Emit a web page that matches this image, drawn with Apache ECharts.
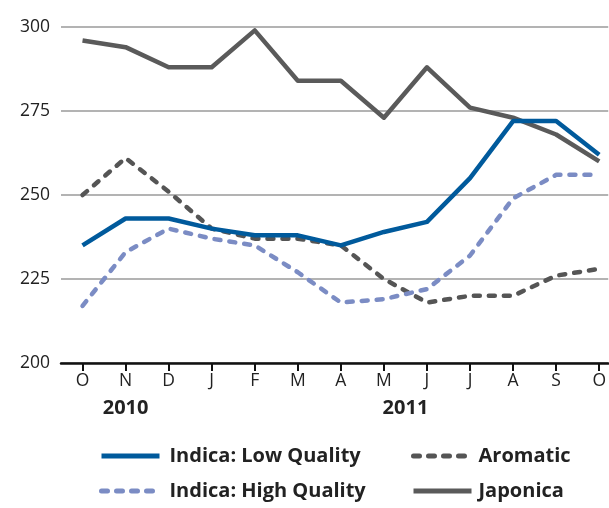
<!DOCTYPE html>
<html><head><meta charset="utf-8">
<script src="https://cdn.jsdelivr.net/npm/echarts@6/dist/echarts.min.js"></script>
<style>html,body{margin:0;padding:0;background:#fff}#c{width:609px;height:508px}</style>
</head><body><div id="c"></div>
<script>
const months = ['O','N','D','J','F','M','A','M','J','J','A','S','O'];
const yearLabels = ['2010','2011'];
const yTicks = [200,225,250,275,300];
const indicaLow = [235,243,243,240,238,238,235,239,242,255,272,272,262];
const indicaHigh = [217,233,240,237,235,227,218,219,222,232,249,256,256];
const aromatic = [250,261,251,240,237,237,235,225,218,220,220,226,228];
const japonica = [296,294,288,288,299,284,284,273,288,276,273,268,260];

const FONT = '"Open Sans", "Noto Sans", sans-serif';
const idx = months.map((m, i) => i);
const chart = echarts.init(document.getElementById('c'));
function ser(name, vals, color, type, z){
  return {name, type:'line', data: vals.map((v, i) => [i, v]), symbol:'none', showSymbol:false, smooth:false, z, clip:false,
    lineStyle:{color, width:4.5, type, cap: type==='solid'?'butt':'round', join:'round'},
    itemStyle:{color}};
}
function legendBase(textPad){
  return {orient:'vertical', padding:0, itemGap:15, itemWidth:58, itemHeight:22,
    itemStyle:{opacity:0}, lineStyle:{width:5},
    textStyle:{fontSize:20, fontWeight:'bold', color:'#222', fontFamily:FONT, padding:[0,0,0,textPad]}};
}
const option = {
  animation:false,
  grid:{left:61, top:27, right:0, bottom:145},
  xAxis:{type:'value', min:-0.5, max:12.21,
    axisLine:{lineStyle:{color:'#111', width:2.5}},
    splitLine:{show:false},
    axisTick:{customValues: idx, length:8, lineStyle:{color:'#111', width:2}},
    axisLabel:{customValues: idx, formatter: v => months[v], color:'#222', fontSize:17.5, fontFamily:FONT, margin:9}},
  yAxis:{type:'value', min:yTicks[0], max:yTicks[yTicks.length-1], interval:25,
    axisLine:{show:false}, axisTick:{show:false},
    splitLine:{lineStyle:{color:'#9a9a9a', width:1.5}},
    axisLabel:{color:'#222', fontSize:17.5, fontFamily:FONT, margin:11}},
  legend:[
    Object.assign({left:99, top:446, data:['Indica: Low Quality','Indica: High Quality']}, legendBase(5)),
    Object.assign({left:411, top:446, data:['Aromatic','Japonica']}, legendBase(2))
  ],
  series:[
    ser('Japonica', japonica, '#5a5a5a', 'solid', 2),
    ser('Aromatic', aromatic, '#555555', [6,9], 3),
    ser('Indica: High Quality', indicaHigh, '#7b8cc4', [6,9], 4),
    ser('Indica: Low Quality', indicaLow, '#005a9c', 'solid', 5)
  ]
};
chart.setOption(option);
const x2010 = chart.convertToPixel({xAxisIndex:0}, 1);
const x2011 = chart.convertToPixel({xAxisIndex:0}, 7.5);
const yYear = chart.convertToPixel({yAxisIndex:0}, yTicks[0]) + 45;
chart.setOption({graphic:[
  {type:'text', x:x2010, y:yYear, style:{text:yearLabels[0], font:'bold 20px '+FONT, fill:'#222', align:'center', verticalAlign:'middle'}},
  {type:'text', x:x2011, y:yYear, style:{text:yearLabels[1], font:'bold 20px '+FONT, fill:'#222', align:'center', verticalAlign:'middle'}}
]});
</script></body></html>
